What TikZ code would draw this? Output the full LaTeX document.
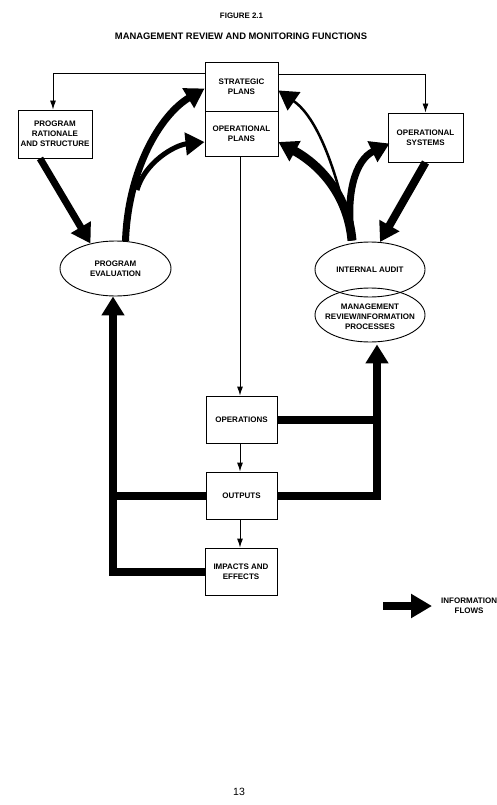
\documentclass[tikz,border=0pt]{standalone}
\usepackage{fontspec}
\setmainfont{Liberation Sans}
\usetikzlibrary{arrows.meta,shapes.geometric}
\begin{document}
\begin{tikzpicture}[x=1pt,y=-1pt,
  box/.style={draw, line width=0.9pt, inner sep=0pt, align=center, font=\bfseries\fontsize{8}{10}\selectfont},
  ell/.style={draw, ellipse, line width=0.9pt, inner sep=0pt},
  lbl/.style={align=center, inner sep=0pt, font=\bfseries\fontsize{8}{10}\selectfont},
  thinarr/.style={line width=0.9pt, -{Latex[length=9pt,width=6pt]}},
  flow/.style={line width=#1, -{Triangle[length=19pt,width=22pt]}},
  bar/.style={line width=8pt}]
\useasboundingbox (0,0) rectangle (496,805);

% titles
\node[font=\bfseries\fontsize{7.9}{9}\selectfont] (fig) at (241.5,16) {FIGURE 2.1};
\node[font=\bfseries\fontsize{9.4}{11}\selectfont] (title) at (241,36) {MANAGEMENT REVIEW AND MONITORING FUNCTIONS};

% boxes
\node[box, minimum width=73pt, minimum height=49pt] (sp) at (241.5,86.5) {STRATEGIC\\PLANS};
\node[box, minimum width=73pt, minimum height=45pt] (op) at (241.5,133.5) {OPERATIONAL\\PLANS};
\node[box, minimum width=74pt, minimum height=48pt] (pr) at (55,134) {PROGRAM\\RATIONALE\\AND STRUCTURE};
\node[box, minimum width=75pt, minimum height=49pt] (os) at (425.5,137.5) {OPERATIONAL\\SYSTEMS};
\node[box, minimum width=71pt, minimum height=47pt] (opsn) at (241.5,419.5) {OPERATIONS};
\node[box, minimum width=71pt, minimum height=47pt] (out) at (241.5,495.5) {OUTPUTS};
\node[box, minimum width=72pt, minimum height=47pt] (imp) at (241,571.5) {IMPACTS AND\\EFFECTS};

% ellipses
\node[ell, minimum width=111pt, minimum height=55pt] (pe) at (115.5,268.5) {};
\node[lbl] (pet) at (pe.center) {PROGRAM\\EVALUATION};
\node[ell, minimum width=110pt, minimum height=55pt] (ia) at (370,269.5) {};
\node[lbl] (iat) at (ia.center) {INTERNAL AUDIT};
\node[ell, minimum width=110pt, minimum height=54pt] (mr) at (370,315) {};
\node[lbl] (mrt) at ([yshift=-2pt]mr.center) {MANAGEMENT\\REVIEW/INFORMATION\\PROCESSES};

% thin connectors
\draw[thinarr] ([yshift=-12pt]sp.north west) -| ([xshift=-2pt]pr.north);
\draw[thinarr] ([yshift=-13pt]sp.north east) -| (os.north);
\draw[thinarr] ([xshift=-1.5pt]op.south) -- ([xshift=-1.5pt]opsn.north);
\draw[thinarr] ([xshift=-1.5pt]opsn.south) -- ([xshift=-1.5pt]out.north);
\draw[thinarr] ([xshift=-1.5pt]out.south) -- ([xshift=-1pt]imp.north);

% thick information flows (bottom loops)
\coordinate (pein) at ([xshift=-2.5pt]pe.south);
\draw[flow=8pt] (imp.west) -| (pein);
\draw[bar] (out.west) -- (out.west -| pein);
\coordinate (mrin) at ([xshift=7pt,yshift=-2pt]mr.south);
\draw[flow=8pt] (out.east) -| (mrin);
\draw[bar] (opsn.east) -- (opsn.east -| mrin);

% left curved flows
\coordinate (prout) at ([xshift=-15pt]pr.south);
\draw[flow=7pt] (prout) -- (pe.135);
\coordinate (spl) at ([yshift=-2pt]sp.west);
\draw[flow=7pt] (pe.70) .. controls (128,170) and (160,115) .. (spl);
\coordinate (brl) at (137,190);
\coordinate (opl) at ([yshift=-8.5pt]op.west);
\draw[flow=5pt] (brl) .. controls (145,162) and (175,145) .. (opl);

% right curved flows
\coordinate (iatop) at ([xshift=-18pt,yshift=1pt]ia.north);
\coordinate (opr) at ([yshift=-8.5pt]op.east);
\draw[flow=9pt] (iatop) .. controls (348,195) and (320,165) .. (opr);
\coordinate (osl) at ([xshift=2pt,yshift=-6pt]os.west);
\draw[flow=7pt] (iatop) .. controls (345,195) and (355,160) .. (osl);
\coordinate (brr) at (345,212);
\coordinate (spr) at ([yshift=-4pt]sp.east);
\draw[flow=2.5pt] (brr) .. controls (335,170) and (318,118) .. (spr);
\draw[flow=8pt] (os.south) -- (ia.70);

% legend
\coordinate (legA) at (383,606);
\coordinate (legB) at (432,606);
\draw[line width=8pt, -{Triangle[length=21pt,width=23pt]}] (legA) -- (legB);
\node[lbl, anchor=west] (legt) at (441,605.5) {INFORMATION\\\hspace*{0pt}FLOWS};

% page number
\node[font=\fontsize{10.5}{12}\selectfont] (pg) at (239,792) {13};
\end{tikzpicture}
\end{document}
